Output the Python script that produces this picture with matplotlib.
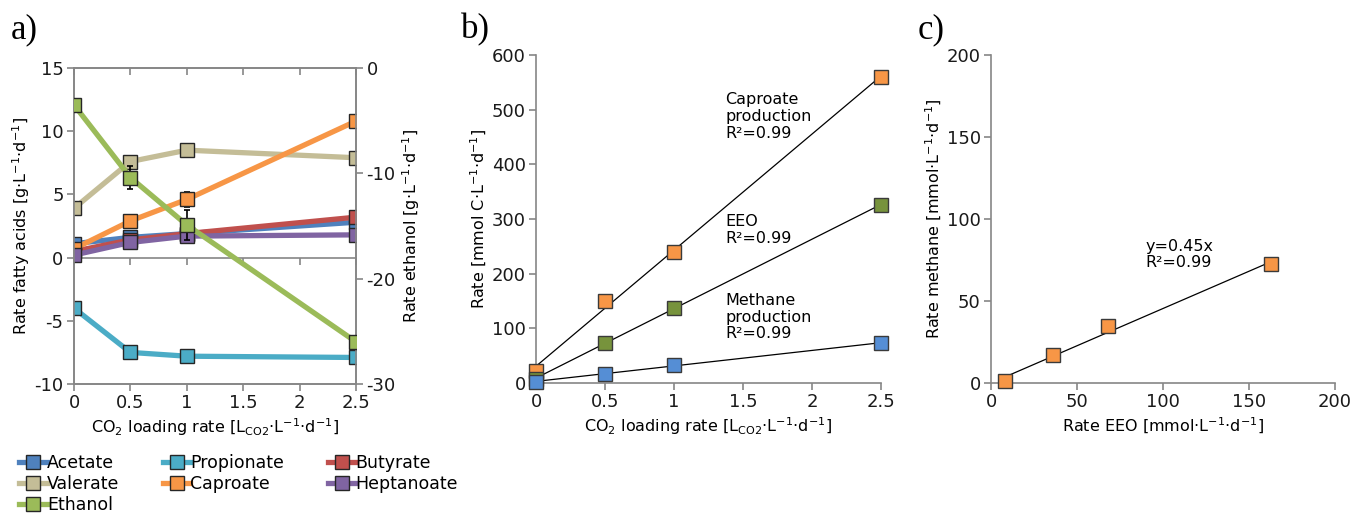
import numpy as np
import matplotlib
matplotlib.use("Agg")
import matplotlib.pyplot as plt

plt.rcParams["font.family"] = "DejaVu Sans"
plt.rcParams["font.size"] = 11.5
plt.rcParams["xtick.labelsize"] = 13
plt.rcParams["ytick.labelsize"] = 13
plt.rcParams["axes.unicode_minus"] = False

# ---- panel a data (g L-1 d-1) ----
co2_rate = [0, 0.5, 1, 2.5]
x_tick_vals = [0, 0.5, 1, 1.5, 2, 2.5]
x_tick_labels = ["0", "0.5", "1", "1.5", "2", "2.5"]

acetate = [1.1, 1.6, 1.9, 2.8]
propionate = [-4.0, -7.5, -7.8, -7.9]
butyrate = [0.5, 1.4, 1.9, 3.2]
valerate = [3.9, 7.6, 8.5, 7.9]
caproate = [0.7, 2.9, 4.6, 10.8]
heptanoate = [0.2, 1.2, 1.7, 1.8]
ethanol = [-3.5, -10.4, -14.9, -26.0]

propionate_err = [0.1, 0.3, 0.2, 0.4]
valerate_err = [0.3, 0.4, 0.2, 0.2]
caproate_err = [0.2, 0.2, 0.6, 0.3]
ethanol_err = [0.2, 1.1, 1.4, 0.6]

# ---- panel b data (mmol C L-1 d-1) ----
caproate_prod = [22, 150, 240, 560]
eeo = [8, 73, 137, 326]
methane_prod = [2, 17, 33, 73]

# ---- panel c data ----
eeo_rate = [8, 36, 68, 163]
methane_rate = [1.5, 17, 34.5, 72.5]

c_blue = "#4F81BD"
c_cyan = "#4BACC6"
c_red = "#C0504D"
c_tan = "#C4BD97"
c_orange = "#F79646"
c_purple = "#8064A2"
c_green = "#9BBB59"
spine_c = "#868686"

fig = plt.figure(figsize=(13.53, 5.14), dpi=100)

# ================= panel a =================
ax = fig.add_axes([0.0547, 0.2529, 0.2084, 0.6148])
ax2 = ax.twinx()

line_kw = dict(lw=3.8, marker="s", ms=10, mec="#262626", mew=1.0)
err_kw = dict(ecolor="black", elinewidth=1.2, capsize=2.5, capthick=1.2)

series = [
    ("Acetate", acetate, None, c_blue),
    ("Propionate", propionate, propionate_err, c_cyan),
    ("Butyrate", butyrate, None, c_red),
    ("Valerate", valerate, valerate_err, c_tan),
    ("Caproate", caproate, caproate_err, c_orange),
    ("Heptanoate", heptanoate, None, c_purple),
]
handles = {}
for name, vals, err, col in series:
    if err is not None:
        ax.errorbar(co2_rate, vals, yerr=err, fmt="none", zorder=2, **err_kw)
    (h,) = ax.plot(co2_rate, vals, color=col, mfc=col, zorder=3, **line_kw)
    handles[name] = h

ax2.errorbar(co2_rate, ethanol, yerr=ethanol_err, fmt="none", zorder=2, **err_kw)
(h,) = ax2.plot(co2_rate, ethanol, color=c_green, mfc=c_green, zorder=3, **line_kw)
handles["Ethanol"] = h

ax.set_xlim(0, 2.5)
ax.set_ylim(-10, 15)
ax2.set_ylim(-30, 0)
ax.set_yticks([-10, -5, 0, 5, 10, 15])
ax2.set_yticks([-30, -20, -10, 0])
ax.set_xticks(x_tick_vals)
ax.set_xticklabels(x_tick_labels)

for a in (ax, ax2):
    for s in a.spines.values():
        s.set_color(spine_c)
        s.set_linewidth(1.2)
    a.tick_params(colors=spine_c, labelcolor="#1a1a1a", length=5, width=1.2,
                  direction="out", pad=2.5)
ax.spines["top"].set_visible(False)
ax2.spines["top"].set_visible(True)

# horizontal axis lines at y=0 (left) and top (right axis zero)
zero_pos = (0 - (-10)) / 25
sec0 = ax.secondary_xaxis(zero_pos)
sec0.set_xticks(x_tick_vals)
sec0.tick_params(labelbottom=False, labeltop=False, colors=spine_c, length=5,
                 width=1.2, direction="out")
for s in sec0.spines.values():
    s.set_color(spine_c)
    s.set_linewidth(1.2)
sec_top = ax.secondary_xaxis("top")
sec_top.set_xticks(x_tick_vals)
sec_top.tick_params(labeltop=False, colors=spine_c, length=5, width=1.2,
                    direction="in")
for s in sec_top.spines.values():
    s.set_color(spine_c)
    s.set_linewidth(1.2)

ax.set_xlabel(r"CO$_\mathregular{2}$ loading rate [L$_\mathregular{CO2}$·L$^\mathregular{-1}$·d$^\mathregular{-1}$]",
              labelpad=3)
ax.set_ylabel(r"Rate fatty acids [g·L$^\mathregular{-1}$·d$^\mathregular{-1}$]", labelpad=2)
ax2.set_ylabel(r"Rate ethanol [g·L$^\mathregular{-1}$·d$^\mathregular{-1}$]", labelpad=3)

order = ["Acetate", "Valerate", "Ethanol", "Propionate", "Caproate",
         "Butyrate", "Heptanoate"]
fig.legend([handles[n] for n in order], order, ncol=3, loc="upper left",
           bbox_to_anchor=(0.009, 0.13), frameon=False, handlelength=1.6,
           handletextpad=0.0, columnspacing=2.5, labelspacing=0.18,
           borderaxespad=0, fontsize=12.5)

# ================= panel b =================
bx = fig.add_axes([0.3962, 0.2549, 0.2549, 0.6381])
b_series = [
    (caproate_prod, "#F79646"),
    (eeo, "#77933C"),
    (methane_prod, "#558ED5"),
]
xfit = np.array([0, 2.5])
for vals, col in b_series:
    k, b0 = np.polyfit(co2_rate, vals, 1)
    bx.plot(xfit, k * xfit + b0, color="black", lw=0.9, zorder=2)
for vals, col in b_series:
    bx.plot(co2_rate, vals, ls="none", marker="s", ms=10.5, mfc=col,
            mec="#3a3a3a", mew=1.0, zorder=3, clip_on=False)

bx.text(1.37, 532, "Caproate\nproduction\nR²=0.99", va="top", ha="left",
        linespacing=1.15)
bx.text(1.37, 309, "EEO\nR²=0.99", va="top", ha="left", linespacing=1.15)
bx.text(1.37, 165, "Methane\nproduction\nR²=0.99", va="top", ha="left",
        linespacing=1.15)

bx.set_xlim(0, 2.5)
bx.set_ylim(0, 600)
bx.set_xticks(x_tick_vals)
bx.set_xticklabels(x_tick_labels)
bx.set_yticks(range(0, 601, 100))
bx.set_xlabel(r"CO$_\mathregular{2}$ loading rate [L$_\mathregular{CO2}$·L$^\mathregular{-1}$·d$^\mathregular{-1}$]",
              labelpad=3)
bx.set_ylabel(r"Rate [mmol C·L$^\mathregular{-1}$·d$^\mathregular{-1}$]", labelpad=2)

# ================= panel c =================
cx = fig.add_axes([0.7325, 0.2549, 0.2542, 0.6381])
xs = np.array(eeo_rate, dtype=float)
ys = np.array(methane_rate, dtype=float)
slope = np.sum(xs * ys) / np.sum(xs * xs)
xl = np.array([xs.min(), xs.max()])
cx.plot(xl, slope * xl, color="black", lw=0.9, zorder=2)
cx.plot(eeo_rate, methane_rate, ls="none", marker="s", ms=10.5, mfc=c_orange,
        mec="#3a3a3a", mew=1.0, zorder=3, clip_on=False)
cx.text(90, 88, "y=0.45x\nR²=0.99", va="top", ha="left", linespacing=1.15)
cx.set_xlim(0, 200)
cx.set_ylim(0, 200)
cx.set_xticks(range(0, 201, 50))
cx.set_yticks(range(0, 201, 50))
cx.set_xlabel(r"Rate EEO [mmol·L$^\mathregular{-1}$·d$^\mathregular{-1}$]", labelpad=3)
cx.set_ylabel(r"Rate methane [mmol·L$^\mathregular{-1}$·d$^\mathregular{-1}$]", labelpad=2)

for a in (bx, cx):
    a.spines["top"].set_visible(False)
    a.spines["right"].set_visible(False)
    for s in ("left", "bottom"):
        a.spines[s].set_color(spine_c)
        a.spines[s].set_linewidth(1.2)
    a.tick_params(colors=spine_c, labelcolor="#1a1a1a", length=5, width=1.2,
                  direction="out", pad=2.5)

# panel letters
for xpos, lab in [(0.008, "a)"), (0.341, "b)"), (0.678, "c)")]:
    fig.text(xpos, 0.975, lab, family="Liberation Serif", fontsize=25,
             va="top", ha="left")

fig.savefig("out.png", dpi=100)
